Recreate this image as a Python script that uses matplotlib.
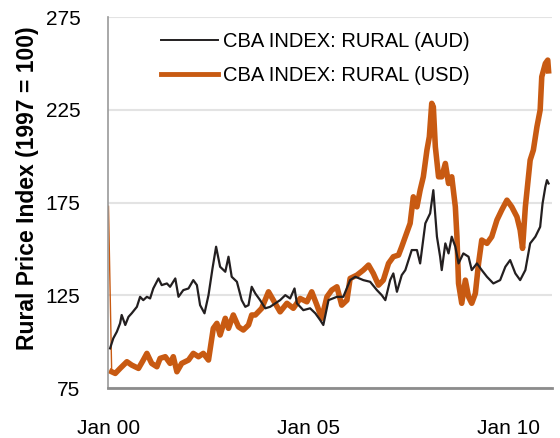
import matplotlib.pyplot as plt

plt.rcParams['font.family'] = ['Liberation Sans', 'DejaVu Sans']

# decimal years and index values
aud_t = [2000.05, 2000.13, 2000.22, 2000.30, 2000.34, 2000.43, 2000.51, 2000.59, 2000.72, 2000.80,
         2000.88, 2000.97, 2001.05, 2001.13, 2001.26, 2001.34, 2001.47, 2001.55, 2001.68, 2001.76,
         2001.88, 2002.01, 2002.13, 2002.22, 2002.30, 2002.41, 2002.51, 2002.61, 2002.70, 2002.80,
         2002.93, 2003.01, 2003.09, 2003.22, 2003.34, 2003.43, 2003.51, 2003.59, 2003.68, 2003.80,
         2003.93, 2004.05, 2004.30, 2004.43, 2004.55, 2004.66, 2004.72, 2004.88, 2005.05, 2005.18,
         2005.30, 2005.38, 2005.51, 2005.72, 2005.88, 2006.05, 2006.18, 2006.38, 2006.55, 2006.72,
         2006.84, 2006.93, 2007.05, 2007.13, 2007.22, 2007.34, 2007.43, 2007.59, 2007.72, 2007.80,
         2007.93, 2008.05, 2008.13, 2008.22, 2008.30, 2008.34, 2008.43, 2008.51, 2008.59, 2008.68,
         2008.76, 2008.88, 2009.01, 2009.09, 2009.22, 2009.34, 2009.47, 2009.63, 2009.80, 2009.93,
         2010.05, 2010.18, 2010.30, 2010.43, 2010.55, 2010.68, 2010.80, 2010.86, 2010.93, 2010.97,
         2011.01]
aud = [96.4, 101.8, 105.4, 109.9, 114.4, 109.0, 113.4, 115.3, 118.8, 124.2,
       122.4, 124.2, 123.3, 128.7, 134.1, 130.5, 131.4, 129.6, 134.1, 124.2,
       127.8, 128.7, 133.2, 130.5, 119.7, 115.3, 125.1, 139.5, 151.2, 140.4,
       137.7, 145.8, 135.0, 132.3, 122.4, 118.8, 119.7, 129.6, 126.0, 122.4,
       118.0, 118.8, 122.4, 125.1, 123.3, 128.7, 120.7, 117.0, 118.0, 115.3,
       111.7, 109.0, 122.4, 124.2, 124.2, 133.2, 135.0, 133.2, 132.3, 127.8,
       125.1, 122.4, 133.2, 136.8, 126.9, 135.9, 138.6, 149.4, 149.4, 142.2,
       163.8, 169.2, 181.7, 156.6, 145.8, 138.6, 153.0, 147.6, 156.6, 151.2,
       142.2, 147.6, 145.8, 138.6, 142.2, 138.6, 135.0, 131.4, 133.2, 140.4,
       144.0, 136.8, 133.2, 138.6, 153.0, 156.6, 161.9, 174.5, 183.5, 187.1,
       185.3]

usd_t = [2000.01, 2000.09, 2000.18, 2000.30, 2000.47, 2000.59, 2000.76, 2000.88, 2000.97, 2001.09,
         2001.22, 2001.30, 2001.43, 2001.55, 2001.63, 2001.72, 2001.84, 2002.01, 2002.13, 2002.26,
         2002.38, 2002.51, 2002.63, 2002.72, 2002.80, 2002.93, 2003.01, 2003.13, 2003.26, 2003.38,
         2003.51, 2003.59, 2003.68, 2003.84, 2004.01, 2004.13, 2004.30, 2004.47, 2004.63, 2004.80,
         2004.97, 2005.09, 2005.22, 2005.34, 2005.47, 2005.59, 2005.72, 2005.84, 2005.97, 2006.05,
         2006.22, 2006.38, 2006.51, 2006.63, 2006.76, 2006.88, 2007.01, 2007.13, 2007.26, 2007.34,
         2007.43, 2007.55, 2007.63, 2007.72, 2007.80, 2007.88, 2007.97, 2008.03, 2008.09, 2008.13,
         2008.18, 2008.26, 2008.34, 2008.43, 2008.51, 2008.59, 2008.68, 2008.72, 2008.76, 2008.84,
         2008.93, 2009.01, 2009.09, 2009.18, 2009.26, 2009.34, 2009.47, 2009.59, 2009.72, 2009.84,
         2009.97, 2010.09, 2010.22, 2010.30, 2010.36, 2010.43, 2010.55, 2010.63, 2010.72, 2010.80,
         2010.84, 2010.93, 2010.99, 2011.01]
usd = [173.0, 83.8, 82.9, 85.6, 89.2, 87.4, 85.6, 90.1, 93.7, 88.3,
       86.5, 91.0, 91.9, 88.3, 91.9, 83.8, 88.3, 90.1, 93.7, 91.9,
       93.7, 90.1, 107.2, 109.9, 103.6, 112.6, 107.2, 114.4, 108.0, 106.3,
       109.0, 114.4, 114.4, 118.0, 126.9, 122.4, 116.1, 120.7, 118.0, 123.3,
       121.5, 126.9, 119.7, 112.6, 124.2, 127.8, 129.6, 119.7, 122.4, 134.1,
       135.9, 138.6, 141.3, 136.8, 130.5, 133.2, 142.2, 145.8, 146.7, 151.2,
       156.6, 163.8, 178.1, 172.7, 181.7, 188.9, 203.3, 210.5, 228.5, 226.6,
       205.1, 188.9, 188.9, 196.1, 185.3, 188.9, 172.7, 156.6, 131.4, 120.7,
       133.2, 124.2, 120.7, 126.0, 142.2, 154.8, 153.0, 156.6, 165.6, 171.0,
       176.3, 172.7, 167.3, 160.2, 150.3, 172.7, 197.9, 203.3, 215.9, 224.9,
       242.8, 250.0, 251.8, 246.0]

xticks = [2000, 2005, 2010]
xlabels = ['Jan 00', 'Jan 05', 'Jan 10']
yticks = [75, 125, 175, 225, 275]

orange = '#C85A12'

fig = plt.figure(figsize=(5.6, 4.38), dpi=100)
ax = fig.add_axes([0.193, 0.114, 0.793, 0.847])

ax.plot(aud_t, aud, color='#231F20', lw=1.6, label='CBA INDEX: RURAL (AUD)', zorder=3)
ax.plot(usd_t[:2], usd[:2], color=orange, lw=1.0, zorder=2)
ax.plot(usd_t[1:], usd[1:], color=orange, lw=4, label='CBA INDEX: RURAL (USD)', zorder=2)

ax.set_xlim(2000, 2011.1)
ax.set_ylim(75, 275)
ax.set_xticks(xticks)
ax.set_xticklabels(xlabels)
ax.set_yticks(yticks)
ax.tick_params(length=0, labelsize=15)
ax.tick_params(axis='y', pad=20)
ax.tick_params(axis='x', pad=22)

ax.grid(axis='y', color='#E3E3E3', lw=1.5)
ax.set_axisbelow(True)
for s in ['top', 'right']:
    ax.spines[s].set_visible(False)
ax.spines['bottom'].set_color('#8C8C8C')
ax.spines['bottom'].set_linewidth(2)
ax.spines['left'].set_color('#999999')
ax.spines['left'].set_linestyle((0, (1, 1)))
ax.spines['left'].set_linewidth(1.2)

fig.text(0.05, 1 - 188 / 438, 'Rural Price Index (1997 = 100)', rotation=90,
         ha='center', va='center', fontsize=16.5, fontweight='bold')

leg = ax.legend(loc='upper left', bbox_to_anchor=(0.12, 0.96), frameon=False, fontsize=14.5,
                handlelength=2.8, handletextpad=0.25, labelspacing=0.75, borderpad=0, borderaxespad=0)
leg.get_lines()[0].set_linewidth(1.4)
leg.get_lines()[1].set_linewidth(3.5)

fig.savefig('out.png', dpi=100)
